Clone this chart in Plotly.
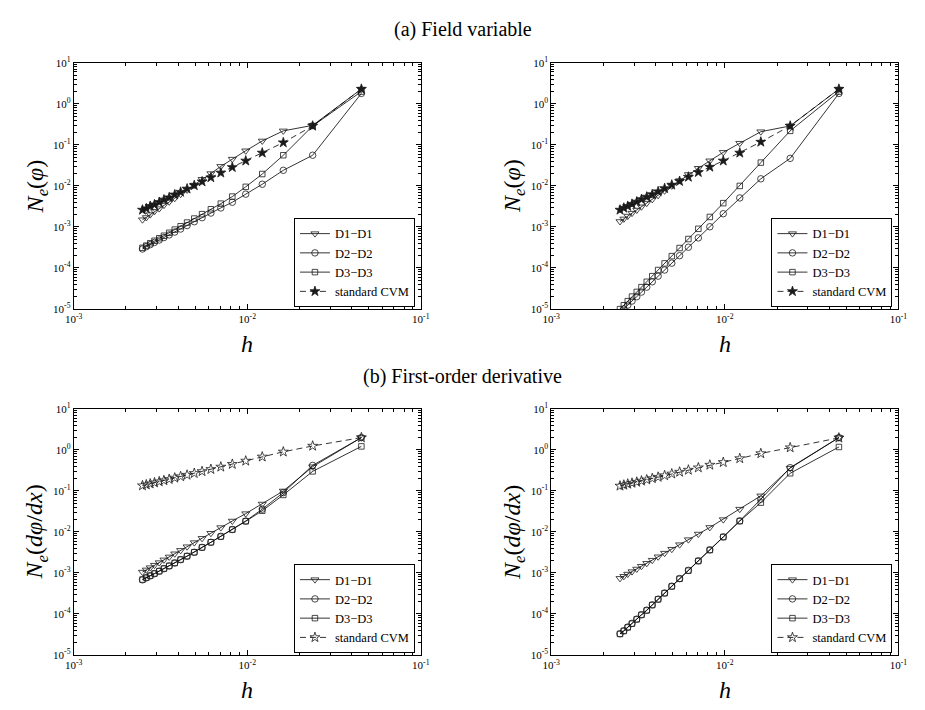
import plotly.graph_objects as go

# ---------------- data ----------------
h = [0.04545, 0.02381, 0.01613, 0.01220, 0.00980, 0.00820, 0.00704, 0.00617, 0.00549, 0.00495,
     0.00450, 0.00413, 0.00382, 0.00355, 0.00331, 0.00311, 0.00292, 0.00276, 0.00262, 0.00249]

series_names = ["D1\u2212D1", "D2\u2212D2", "D3\u2212D3", "standard CVM"]

# (a) Field variable, left panel
a_left_d1 = [2.3, 0.30, 0.22, 0.125, 0.072, 0.045, 0.030, 0.020, 0.0145, 0.0105,
             0.0080, 0.0063, 0.0050, 0.0041, 0.0034, 0.0028, 0.0024, 0.0020, 0.0017, 0.0015]
a_left_d2 = [1.8, 0.056, 0.024, 0.011, 0.0063, 0.0040, 0.0029, 0.00218, 0.00168, 0.00134,
             0.00108, 0.00089, 0.00075, 0.00064, 0.00055, 0.00048, 0.00042, 0.00037, 0.00033, 0.00029]
a_left_d3 = [2.0, 0.29, 0.056, 0.0195, 0.0095, 0.0055, 0.0037, 0.0027, 0.00205, 0.0016,
             0.00128, 0.00104, 0.00086, 0.00072, 0.00061, 0.00053, 0.00046, 0.00040, 0.00035, 0.00031]
a_left_cvm = [2.3, 0.29, 0.114, 0.064, 0.041, 0.0285, 0.0209, 0.0160, 0.0127, 0.0103,
              0.0085, 0.0071, 0.0061, 0.0052, 0.0046, 0.0040, 0.0035, 0.0032, 0.0028, 0.0026]

# (a) Field variable, right panel
a_right_d1 = [2.3, 0.29, 0.21, 0.11, 0.066, 0.041, 0.027, 0.019, 0.0135, 0.0100,
              0.0076, 0.0059, 0.0047, 0.0038, 0.0031, 0.00258, 0.00217, 0.00184, 0.00157, 0.00136]
a_right_d2 = [1.8, 0.047, 0.0149, 0.0051, 0.0021, 0.00101, 0.00054, 0.00032, 0.000199, 0.000131,
              8.9e-5, 6.3e-5, 4.6e-5, 3.4e-5, 2.58e-5, 1.99e-5, 1.56e-5, 1.24e-5, 1.0e-5, 8.2e-6]
a_right_d3 = [2.0, 0.22, 0.037, 0.0100, 0.0038, 0.00175, 0.00090, 0.000507, 0.000306, 0.000194,
              0.000129, 8.9e-5, 6.3e-5, 4.6e-5, 3.4e-5, 2.6e-5, 2.0e-5, 1.55e-5, 1.23e-5, 9.9e-6]
a_right_cvm = [2.3, 0.29, 0.118, 0.064, 0.041, 0.029, 0.0215, 0.0165, 0.0130, 0.0106,
               0.0087, 0.0073, 0.0062, 0.0054, 0.0047, 0.0041, 0.0036, 0.0032, 0.0029, 0.0026]

# (b) First-order derivative, left panel
b_left_d1 = [2.0, 0.39, 0.100, 0.048, 0.028, 0.0185, 0.0128, 0.0093, 0.0070, 0.0055,
             0.00437, 0.00356, 0.00294, 0.00246, 0.00209, 0.00179, 0.00155, 0.00135, 0.00119, 0.00105]
b_left_d2 = [2.0, 0.42, 0.091, 0.036, 0.0185, 0.0115, 0.0078, 0.0056, 0.0042, 0.0032,
             0.00256, 0.00211, 0.00175, 0.00148, 0.00127, 0.00110, 0.00096, 0.00085, 0.00076, 0.00068]
b_left_d3 = [1.22, 0.30, 0.080, 0.033, 0.0182, 0.0114, 0.0077, 0.0056, 0.0042, 0.0032,
             0.00258, 0.00212, 0.00176, 0.00149, 0.00128, 0.00111, 0.00097, 0.00086, 0.00077, 0.00069]
b_left_cvm = [2.0, 1.25, 0.90, 0.68, 0.54, 0.45, 0.386, 0.338, 0.30, 0.27,
              0.245, 0.225, 0.208, 0.193, 0.180, 0.169, 0.159, 0.150, 0.142, 0.135]

# (b) First-order derivative, right panel
b_right_d1 = [2.0, 0.36, 0.076, 0.036, 0.020, 0.0129, 0.0089, 0.0065, 0.0049, 0.0038,
              0.00304, 0.00248, 0.00205, 0.00172, 0.00146, 0.00125, 0.00108, 0.00094, 0.00083, 0.00074]
b_right_d2 = [2.0, 0.37, 0.063, 0.0186, 0.0076, 0.00367, 0.00198, 0.00116, 0.00073, 0.000476,
              0.000325, 0.00023, 0.000167, 0.000124, 9.6e-5, 7.5e-5, 5.9e-5, 4.8e-5, 3.9e-5, 3.3e-5]
b_right_d3 = [1.18, 0.27, 0.052, 0.0184, 0.0075, 0.00362, 0.00195, 0.00114, 0.00072, 0.000470,
              0.000321, 0.000227, 0.000165, 0.000122, 9.5e-5, 7.4e-5, 5.8e-5, 4.7e-5, 3.85e-5, 3.25e-5]
b_right_cvm = [1.97, 1.14, 0.82, 0.62, 0.50, 0.43, 0.37, 0.325, 0.29, 0.262,
               0.238, 0.218, 0.202, 0.188, 0.176, 0.165, 0.156, 0.148, 0.140, 0.133]

x_ticks = [1e-3, 1e-2, 1e-1]
x_ticktext = ["10<sup>-3</sup>", "10<sup>-2</sup>", "10<sup>-1</sup>"]
y_ticks = [1e-5, 1e-4, 1e-3, 1e-2, 1e-1, 1e0, 1e1]
y_ticktext = ["10<sup>-5</sup>", "10<sup>-4</sup>", "10<sup>-3</sup>", "10<sup>-2</sup>",
              "10<sup>-1</sup>", "10<sup>0</sup>", "10<sup>1</sup>"]

titles = ["(a) Field variable", "(b) First-order derivative"]
ylabels = ["<i>N<sub>e</sub></i>(<i>\u03c6</i>)",
           "<i>N<sub>e</sub></i>(<i>d\u03c6</i>/<i>dx</i>)"]
xlabel = "<i>h</i>"

# ---------------- layout geometry ----------------
W, H = 925, 710
panels = [
    dict(data=[a_left_d1, a_left_d2, a_left_d3, a_left_cvm], x0=66, x1=420, y0=56, y1=307, ylab=ylabels[0], star="star"),
    dict(data=[a_right_d1, a_right_d2, a_right_d3, a_right_cvm], x0=553, x1=907, y0=56, y1=307, ylab=ylabels[0], star="star"),
    dict(data=[b_left_d1, b_left_d2, b_left_d3, b_left_cvm], x0=66, x1=420, y0=409, y1=660, ylab=ylabels[1], star="star-open"),
    dict(data=[b_right_d1, b_right_d2, b_right_d3, b_right_cvm], x0=553, x1=907, y0=409, y1=660, ylab=ylabels[1], star="star-open"),
]

FONT = "Liberation Serif"
minor_x = [m * 10.0 ** e for e in (-3, -2) for m in range(2, 10)]
minor_y = [m * 10.0 ** e for e in range(-5, 1) for m in range(2, 10)]

fig = go.Figure()
annotations = []
layout = dict(width=W, height=H, margin=dict(l=0, r=0, t=0, b=0),
              paper_bgcolor="white", plot_bgcolor="white", showlegend=True)

for i, p in enumerate(panels):
    n = i + 1
    sfx = "" if n == 1 else str(n)
    leg = "legend" if n == 1 else f"legend{n}"
    symbols = ["triangle-down-open", "circle-open", "square-open", p["star"]]
    sizes = [7, 6.5, 5.5, 7.5]
    for j, (vals, name) in enumerate(zip(p["data"], series_names)):
        fig.add_trace(go.Scatter(
            x=h, y=vals, mode="lines+markers", name=name,
            xaxis=f"x{sfx}", yaxis=f"y{sfx}", legend=leg,
            line=dict(color="black", width=0.8, dash="6px,4px" if j == 3 else "solid"),
            marker=dict(symbol=symbols[j], size=sizes[j], color="#1a1a1a",
                        line=dict(width=0.8, color="#1a1a1a")),
        ))
    dx = [p["x0"] / W, p["x1"] / W]
    dy = [1 - p["y1"] / H, 1 - p["y0"] / H]
    common = dict(showline=True, linecolor="black", linewidth=1, mirror="ticks",
                  ticks="inside", ticklen=5, tickwidth=0.8, tickcolor="black",
                  showgrid=False, zeroline=False,
                  tickfont=dict(family=FONT, size=11, color="black"))
    layout[f"xaxis{sfx}"] = dict(type="log", range=[-3, -1], domain=dx, anchor=f"y{sfx}",
                                 tickmode="array", tickvals=x_ticks, ticktext=x_ticktext,
                                 minor=dict(tickmode="array", tickvals=minor_x, ticks="inside",
                                            ticklen=3, tickcolor="black", showgrid=False),
                                 **common)
    layout[f"yaxis{sfx}"] = dict(type="log", range=[-5, 1], domain=dy, anchor=f"x{sfx}",
                                 tickmode="array", tickvals=y_ticks, ticktext=y_ticktext,
                                 minor=dict(tickmode="array", tickvals=minor_y, ticks="inside",
                                            ticklen=3, tickcolor="black", showgrid=False),
                                 **common)
    layout[leg] = dict(x=(p["x1"] - 6) / W, y=1 - (p["y1"] - 2) / H,
                       xanchor="right", yanchor="bottom",
                       bordercolor="black", borderwidth=1, bgcolor="white",
                       font=dict(family=FONT, size=12.5, color="black"),
                       tracegroupgap=0, itemwidth=30)
    # axis titles
    annotations.append(dict(text=xlabel, x=(p["x0"] + p["x1"]) / 2 / W, y=1 - (p["y1"] + 36) / H,
                            xref="paper", yref="paper", xanchor="center", yanchor="middle",
                            showarrow=False, font=dict(family=FONT, size=24, color="black")))
    annotations.append(dict(text=p["ylab"], x=(p["x0"] - 38) / W, y=1 - (p["y0"] + p["y1"]) / 2 / H,
                            xref="paper", yref="paper", xanchor="center", yanchor="middle",
                            showarrow=False, textangle=-90,
                            font=dict(family=FONT, size=24, color="black")))

annotations.append(dict(text=titles[0], x=0.5, y=1 - 22 / H, xref="paper", yref="paper",
                        xanchor="center", yanchor="middle",
                        showarrow=False, font=dict(family=FONT, size=20, color="black")))
annotations.append(dict(text=titles[1], x=0.5, y=1 - 376 / H, xref="paper", yref="paper",
                        xanchor="center", yanchor="middle",
                        showarrow=False, font=dict(family=FONT, size=20, color="black")))
layout["annotations"] = annotations

fig.update_layout(**layout)
fig.write_html("out.html")
